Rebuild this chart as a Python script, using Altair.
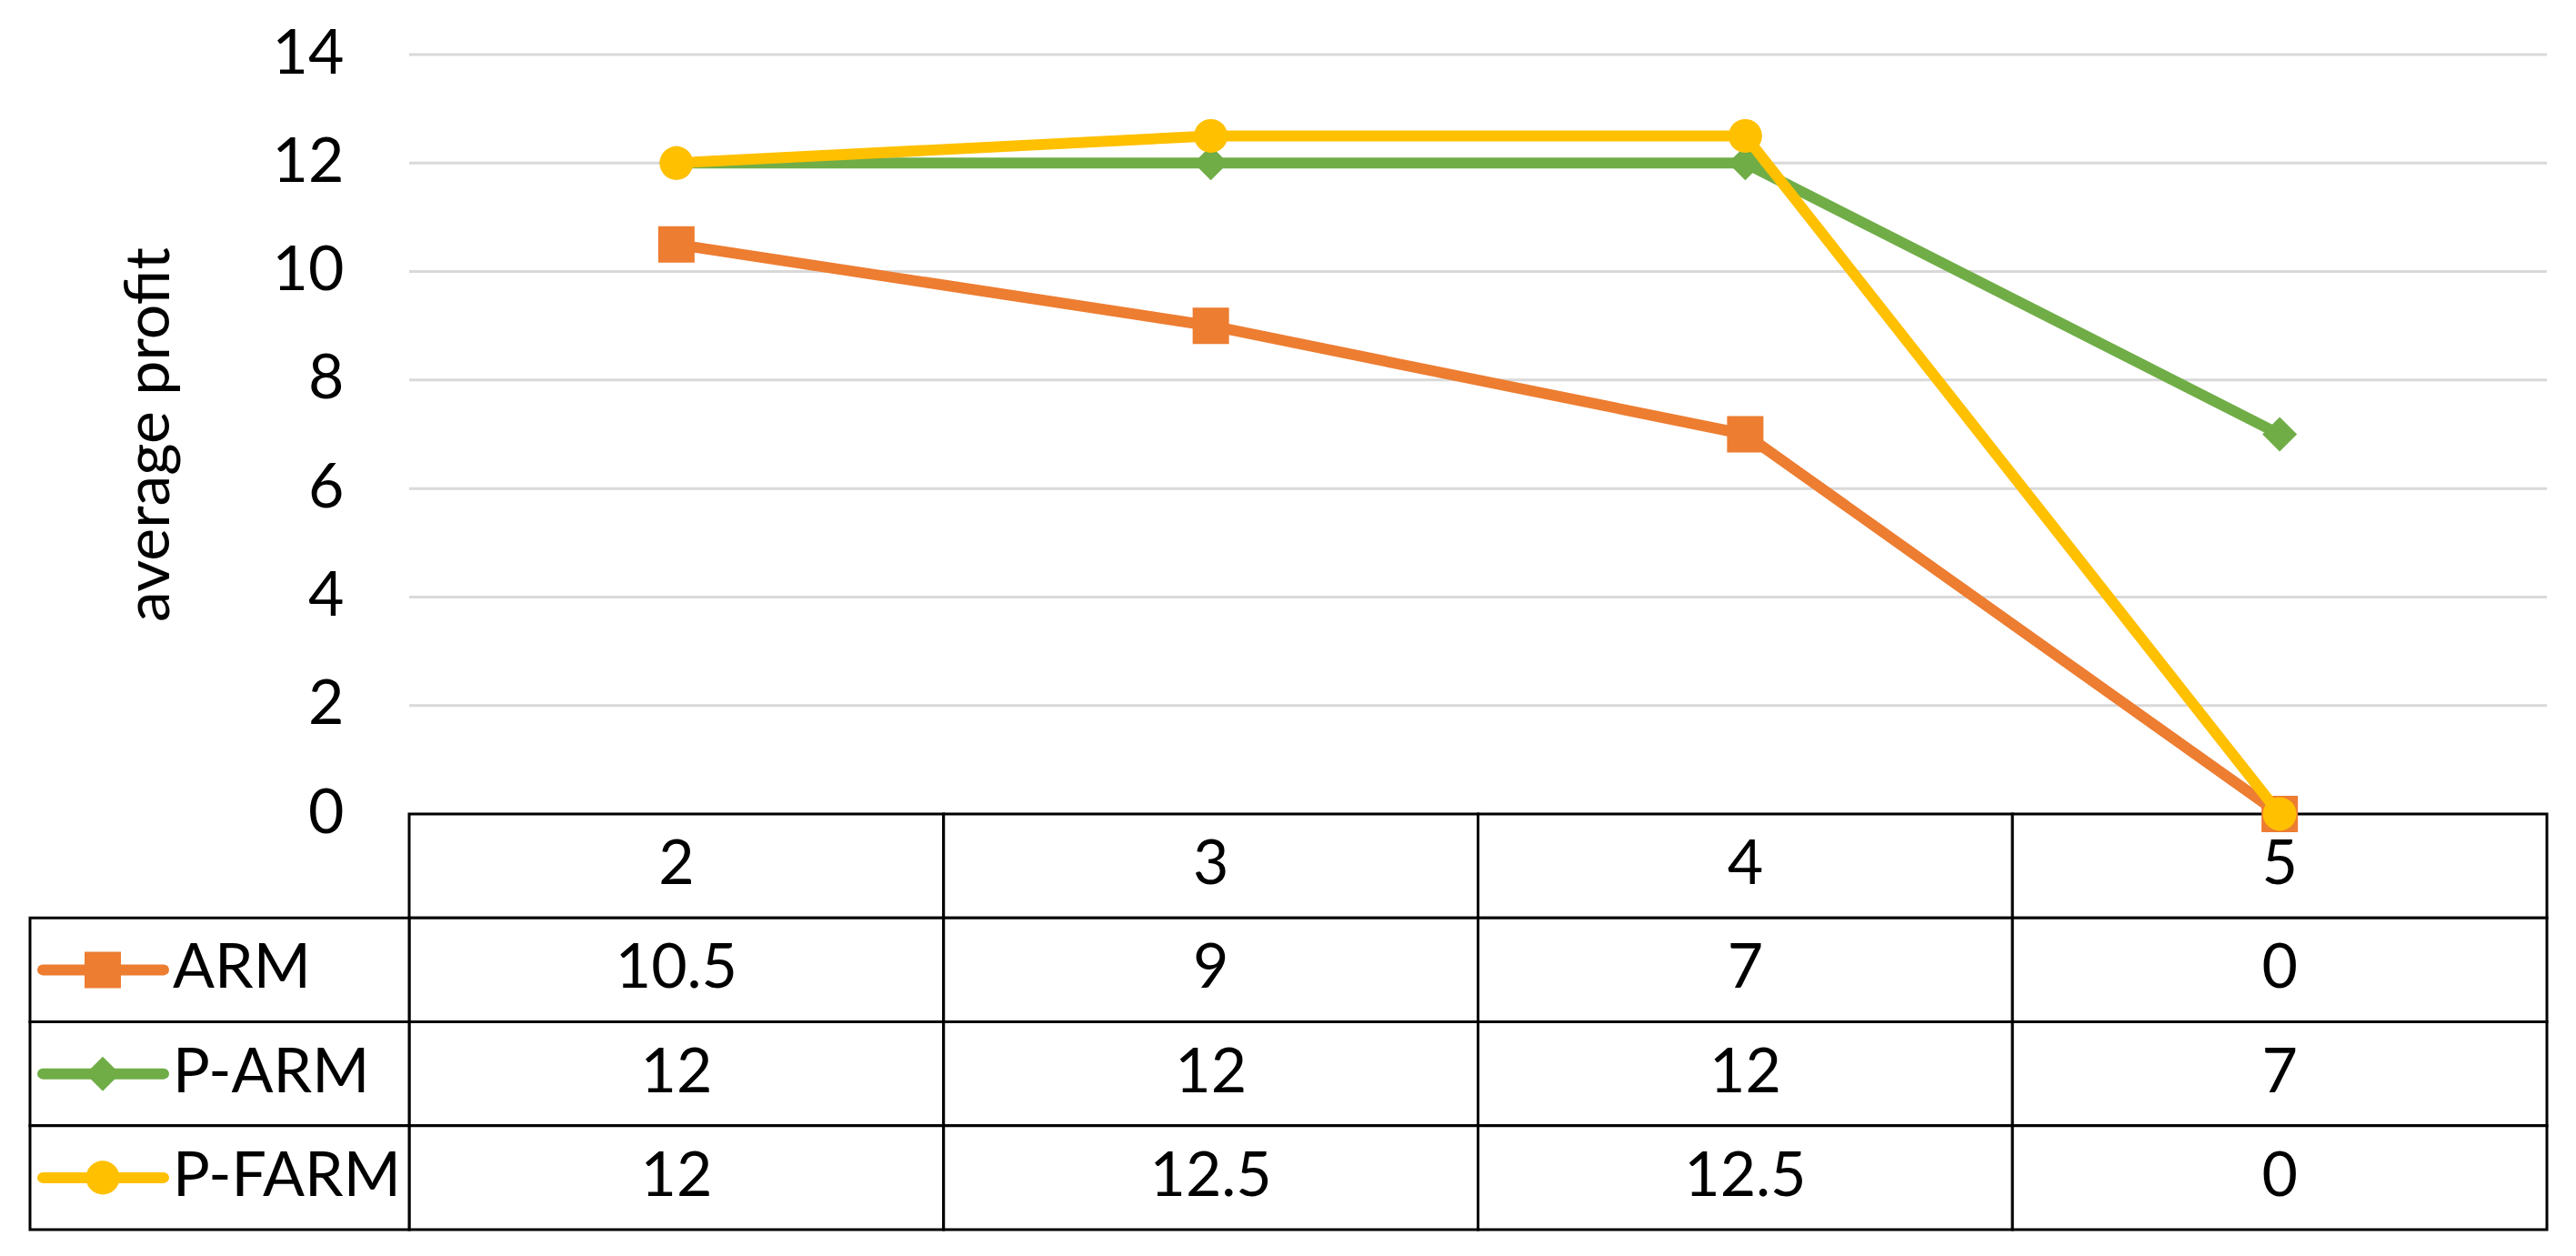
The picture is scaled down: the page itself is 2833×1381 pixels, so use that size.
import altair as alt
import pandas as pd

# ---------------- data ----------------
categories = ["2", "3", "4", "5"]
series_names = ["ARM", "P-ARM", "P-FARM"]
arm_values = [10.5, 9, 7, 0]
parm_values = [12, 12, 12, 7]
pfarm_values = [12, 12.5, 12.5, 0]
y_ticks = [0, 2, 4, 6, 8, 10, 12, 14]
y_title = "average profit"

# ---------------- styles ----------------
colors = ["#ED7D31", "#70AD47", "#FFC000"]
shapes = ["square", "diamond", "circle"]
sizes = [1600, 1444, 1370]
FONT = "Lato"
FS = 68
W, H = 2351, 835
TABLE_H = 457
LINE_W = 12

rows = []
for s, vals in zip(series_names, [arm_values, parm_values, pfarm_values]):
    for c, v in zip(categories, vals):
        rows.append({"series": s, "cat": c, "value": v, "label": f"{v:g}"})
df = pd.DataFrame(rows)

row_order = ["header"] + series_names
header_df = pd.DataFrame({"cat": categories, "row": ["header"] * len(categories), "label": categories})
body_df = df.rename(columns={"series": "row"})[["cat", "row", "label"]]
cells_df = pd.concat([header_df, body_df], ignore_index=True)
legend_df = pd.DataFrame({"row": series_names})

xscale = alt.Scale(type="band", domain=categories, paddingInner=0, paddingOuter=0)
yscale = alt.Scale(domain=[0, 14], nice=False, zero=True)
tscale = alt.Scale(type="band", domain=row_order, range=[H, H + TABLE_H],
                   paddingInner=0, paddingOuter=0)

yaxis = alt.Axis(values=y_ticks, title=y_title, labelFont=FONT, labelFontSize=FS,
                 labelColor="black", labelPadding=72, domain=False, ticks=False,
                 grid=False, titleFont=FONT, titleFontSize=FS,
                 titleFontWeight="normal", titleColor="black", titlePadding=100)

# ---------------- gridlines (under the series, not over the table border) ----------------
grid_df = pd.DataFrame({"tick": y_ticks})
grid_layer = alt.Chart(grid_df).transform_filter(alt.datum.tick > 0).mark_rule(
    color="#D9D9D9", strokeWidth=3).encode(
    y=alt.Y("tick:Q", scale=yscale, axis=yaxis),
    x=alt.value(0), x2=alt.value(W))

# ---------------- series layers ----------------
line_layers = [grid_layer]
for i, s in enumerate(series_names):
    base = alt.Chart(df).transform_filter(alt.datum.series == s)
    enc = dict(
        x=alt.X("cat:N", scale=xscale, axis=None, bandPosition=0.5),
        y=alt.Y("value:Q", scale=yscale, axis=yaxis),
    )
    line_layers.append(base.mark_line(color=colors[i], strokeWidth=LINE_W,
                                      strokeJoin="round", strokeCap="round").encode(**enc))
    line_layers.append(base.mark_point(shape=shapes[i], size=sizes[i], filled=True,
                                       color=colors[i], opacity=1).encode(**enc))

# ---------------- data table ----------------
ty = alt.Y("row:N", scale=tscale, axis=None)
ty_c = alt.Y("row:N", scale=tscale, axis=None, bandPosition=0.5)

cell_rects = alt.Chart(cells_df).mark_rect(fill="white", stroke="black", strokeWidth=3).encode(
    x=alt.X("cat:N", scale=xscale, axis=None), y=ty)
legend_rects = alt.Chart(legend_df).mark_rect(fill="white", stroke="black", strokeWidth=3).encode(
    x=alt.value(-417), x2=alt.value(0), y=ty)
cell_text = alt.Chart(cells_df).mark_text(font=FONT, fontSize=FS, color="black",
                                          baseline="middle", align="center").encode(
    x=alt.X("cat:N", scale=xscale, axis=None, bandPosition=0.5), y=ty_c, text="label:N")
legend_text = alt.Chart(legend_df).mark_text(font=FONT, fontSize=FS, color="black",
                                             baseline="middle", align="left").encode(
    x=alt.value(-260), y=ty_c, text="row:N")

table_layers = [cell_rects, legend_rects, cell_text, legend_text]
for i, s in enumerate(series_names):
    lb = alt.Chart(legend_df).transform_filter(alt.datum.row == s)
    table_layers.append(lb.mark_rule(color=colors[i], strokeWidth=LINE_W, strokeCap="round").encode(
        x=alt.value(-403), x2=alt.value(-270), y=ty_c))
    table_layers.append(lb.mark_point(shape=shapes[i], size=sizes[i], filled=True,
                                      color=colors[i], opacity=1).encode(
        x=alt.value(-337), y=ty_c))

chart = alt.layer(
    alt.layer(*table_layers),
    alt.layer(*line_layers),
).resolve_scale(y="independent").properties(
    width=W, height=H,
    autosize=alt.AutoSizeParams(type="none"),
    padding={"left": 442, "top": 52, "right": 14, "bottom": 465},
    background="white",
).configure_view(stroke=None)

chart.save("out.html", embed_options={"renderer": "svg", "actions": False})
